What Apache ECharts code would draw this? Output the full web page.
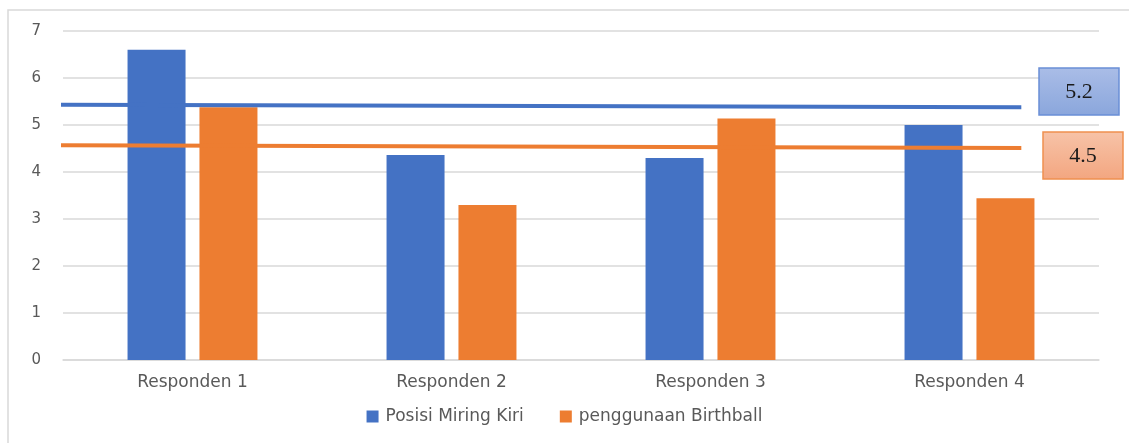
<!DOCTYPE html>
<html>
<head>
<meta charset="utf-8">
<script src="https://cdn.jsdelivr.net/npm/echarts@6/dist/echarts.min.js"></script>
<style>
html,body{margin:0;padding:0;background:#fff;}
#chart{width:1129px;height:443px;}
</style>
</head>
<body>
<div id="chart"></div>
<script>
const categories = ['Responden 1', 'Responden 2', 'Responden 3', 'Responden 4'];
const seriesNames = ['Posisi Miring Kiri', 'penggunaan Birthball'];
const miringKiri = [6.6, 4.36, 4.3, 5.0];
const birthball = [5.38, 3.3, 5.14, 3.44];
// hand-drawn average lines: [x position in category units, value]
const avgLineMiring = [[-0.055, 5.43], [3.70, 5.38]];
const avgLineBirthball = [[-0.05, 4.57], [3.70, 4.51]];
const avgLabels = ['5.2', '4.5'];

const BLUE = '#4472C4', ORANGE = '#ED7D31';
const chart = echarts.init(document.getElementById('chart'));
const font = 'DejaVu Sans';

function box(x, y, text, c0, c1, stroke) {
  return [
    { type: 'rect', shape: { x: x, y: y, width: 80, height: 47 }, silent: true, z: 10,
      style: { fill: new echarts.graphic.LinearGradient(0, 0, 0, 1, [
        { offset: 0, color: c0 }, { offset: 1, color: c1 }]),
        stroke: stroke, lineWidth: 1.5 } },
    { type: 'text', x: x + 40, y: y + 24, silent: true, z: 11,
      style: { text: text, fill: '#1a1a1a', font: '22px "Liberation Serif"',
               align: 'center', verticalAlign: 'middle' } }
  ];
}

chart.setOption({
  animation: false,
  grid: { left: 63, right: 30, top: 31, bottom: 83, containLabel: false },
  legend: {
    data: seriesNames,
    bottom: 13,
    left: 'center',
    itemWidth: 12, itemHeight: 12, itemGap: 36,
    icon: 'rect',
    textStyle: { color: '#595959', fontSize: 17, fontFamily: font, padding: [0, 0, 0, 2] }
  },
  xAxis: [{
    type: 'category',
    data: categories,
    axisLine: { show: true, lineStyle: { color: '#d9d9d9', width: 1.5 } },
    axisTick: { show: false },
    axisLabel: { color: '#595959', fontSize: 17, fontFamily: font, margin: 14 }
  }, {
    type: 'value', min: 0, max: 4, show: false
  }],
  yAxis: {
    type: 'value', min: 0, max: 7, interval: 1,
    axisLine: { show: false }, axisTick: { show: false },
    splitLine: { lineStyle: { color: '#d9d9d9', width: 1.5 } },
    axisLabel: { color: '#595959', fontSize: 15, fontFamily: font, margin: 22 }
  },
  series: [
    { name: seriesNames[0], type: 'bar', data: miringKiri, itemStyle: { color: BLUE },
      barWidth: 58, barGap: '24%' },
    { name: seriesNames[1], type: 'bar', data: birthball, itemStyle: { color: ORANGE },
      barWidth: 58, barGap: '24%' },
    { type: 'line', xAxisIndex: 1, data: avgLineMiring, symbol: 'none', clip: false,
      lineStyle: { color: BLUE, width: 4 }, z: 5 },
    { type: 'line', xAxisIndex: 1, data: avgLineBirthball, symbol: 'none', clip: false,
      lineStyle: { color: ORANGE, width: 4 }, z: 5 }
  ],
  graphic: [
    { type: 'rect', shape: { x: 8, y: 10, width: 1130, height: 440 }, silent: true,
      style: { fill: 'none', stroke: '#d9d9d9', lineWidth: 1.5 }, z: -1 }
  ].concat(
    box(1039, 68, avgLabels[0], '#aabde7', '#8aa6dc', '#6a8fd6'),
    box(1043, 132, avgLabels[1], '#f7c3a8', '#f3a680', '#f0904f')
  )
});
</script>
</body>
</html>
